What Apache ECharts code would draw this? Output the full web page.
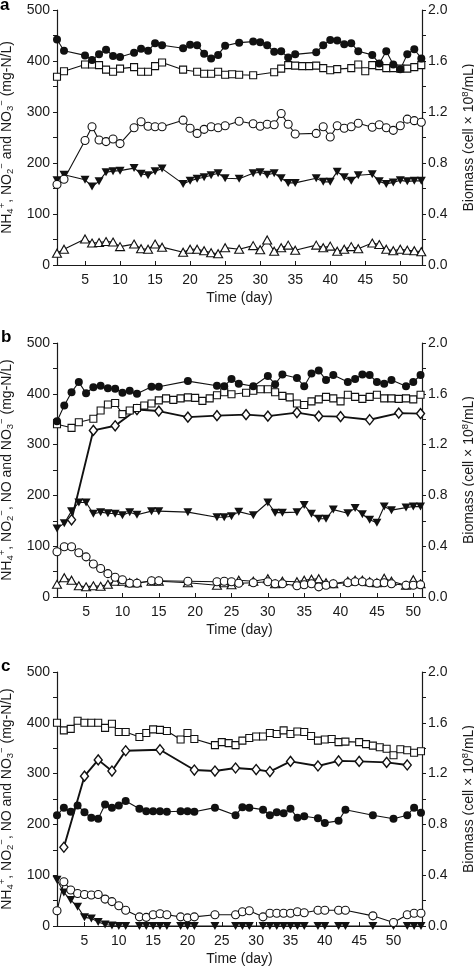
<!DOCTYPE html>
<html><head><meta charset="utf-8">
<script src="https://cdn.jsdelivr.net/npm/echarts@6/dist/echarts.min.js"></script>
<style>html,body{margin:0;padding:0;background:#fff}#c{width:474px;height:969px}</style>
</head><body><div id="c"></div>
<script>
// ---------- Panel a ----------
const aDays = [1,2,5,6,7,8,9,10,12,13,14,15,16,19,20,21,22,23,24,25,27,29,30,31,32,33,34,35,38,39,40,41,42,43,44,46,47,48,49,50,51,52,53];
const aFilledCircle = [442,420,411,402,413,422,410,408,416,424,420,435,431,425,432,431,414,405,412,430,436,438,437,431,418,419,407,413,417,431,441,440,433,435,419,412,395,419,393,384,413,423,405];
const aOpenCircle = [158,168,244,271,245,242,247,238,269,281,272,271,271,284,268,258,266,271,269,273,282,277,272,276,275,297,276,257,258,271,251,273,268,271,278,270,275,269,264,273,286,283,280];
const aFilledTri = [166,177,167,154,164,182,184,185,190,179,176,184,189,159,165,169,172,176,180,170,169,180,182,177,180,170,161,161,170,163,163,183,172,165,176,178,164,159,162,166,164,165,165];
const aOpenTri = [23,31,51,43,44,46,45,36,41,32,31,41,35,25,31,31,28,24,22,34,31,38,30,49,27,34,39,29,39,34,37,27,31,36,32,43,40,31,28,31,29,28,26];
const aSquareDays = [1,2,5,6,7,8,9,10,12,13,14,15,16,19,21,22,23,24,25,26,27,29,32,33,34,35,36,37,38,39,40,41,43,44,45,46,47,48,49,50,51,52,53];
const aSquare = [369,380,393,393,392,383,379,385,388,379,379,390,397,383,379,375,375,379,373,374,373,372,378,385,392,391,390,390,391,386,382,384,386,393,380,392,390,386,386,385,385,388,392];

// ---------- Panel b ----------
const bDays = [1,2,3,4,5,6,7,8,9,10,11,12,14,15,19,23,24,25,26,28,30,31,32,34,35,36,37,38,39,41,42,43,44,45,46,47,49,50,51];
const bFilledCircle = [346,377,403,423,401,413,416,411,410,402,406,400,414,414,425,416,415,429,420,415,435,419,438,431,415,440,446,427,437,423,429,438,437,423,420,427,415,423,437];
const bFilledTri = [135,145,169,186,186,164,167,165,164,161,167,162,169,169,167,157,157,159,168,161,186,166,166,167,181,164,154,154,172,165,175,163,152,146,178,171,176,178,178];
const bOpenCircle = [89,99,99,87,79,65,56,46,39,34,27,27,32,32,31,30,31,30,27,28,30,26,26,22,24,26,20,23,26,28,30,30,28,27,28,26,23,23,24];
const bOpenTri = [25,38,33,22,20,22,21,25,31,31,28,28,31,31,28,23,28,24,33,31,36,26,31,30,33,35,36,28,26,31,33,33,30,28,37,31,23,34,26];
const bSquareDays = [1,3,4,6,7,8,9,10,11,12,13,14,15,16,17,18,19,20,21,22,23,24,25,27,28,29,30,31,32,33,34,35,36,37,38,39,40,41,42,43,44,45,46,47,48,49,50,51];
const bSquare = [340,333,344,351,367,379,382,360,367,372,377,381,387,391,388,391,393,392,386,391,397,403,399,402,406,409,409,403,396,393,381,378,385,389,394,391,385,398,394,390,394,398,391,391,390,391,389,398];
const bDiamondDays = [3,6,9,12,15,19,23,27,30,34,37,40,44,48,51];
const bDiamond = [152,328,337,369,366,354,357,359,356,363,356,355,349,362,361];

// ---------- Panel c ----------
const cDays = [1,2,3,4,5,6,7,8,9,10,11,13,14,15,16,17,19,20,21,24,27,28,29,31,32,33,34,35,36,37,39,40,42,43,47,50,52,53,54];
const cFilledCircle = [218,233,225,237,224,213,211,239,233,237,246,231,226,226,226,225,226,226,225,233,218,234,233,229,218,224,222,231,213,216,212,203,207,229,218,211,218,233,223];
const cOpenCircle = [30,87,71,64,62,61,62,53,48,40,31,18,17,22,24,22,18,16,18,22,22,28,30,18,25,25,25,25,28,26,31,31,31,31,20,7,22,25,25];
const cFilledTri = [91,66,51,38,17,15,8,3,1,0,0,0,0,0,0,0,0,0,0,0,0,0,0,0,0,0,0,0,0,0,0,0,0,0,0,0,0,0,0];
const cSquareDays = [1,2,3,4,5,6,7,8,9,10,11,13,14,15,16,17,19,20,21,24,25,26,27,28,29,30,31,32,33,34,35,36,37,38,39,40,41,42,43,45,46,47,48,49,50,51,52,53,54];
const cSquare = [400,385,388,404,400,400,400,390,398,382,382,372,380,387,386,384,367,380,368,356,362,360,356,365,370,373,373,380,378,385,378,383,382,374,365,367,368,362,363,362,358,355,352,349,336,348,346,341,344];
const cDiamondDays = [2,5,7,9,11,16,21,24,27,30,32,35,39,42,45,49,52];
const cDiamond = [155,295,327,305,345,347,307,305,311,308,304,324,315,325,324,322,317];

// ---------- Axis tick labels ----------
const xTickValues = [5,10,15,20,25,30,35,40,45,50];
const leftTickLabels = [0,100,200,300,400,500];
const rightTickLabels = ['0.0','0.4','0.8','1.2','1.6','2.0'];

const FONT = '"Liberation Sans", Arial, Helvetica, sans-serif';
const INK = '#1a1a1a';

const panels = [
  {top:10, height:255, xmax:53.1, leftName:'NH{sub|4}{sup|+}, NO{sub|2}{sup|−} and NO{sub|3}{sup|−} (mg-N/L)'},
  {top:343, height:254, xmax:51.2, leftName:'NH{sub|4}{sup|+}, NO{sub|2}{sup|−}, NO and NO{sub|3}{sup|−} (mg-N/L)'},
  {top:672, height:254, xmax:54.15, leftName:'NH{sub|4}{sup|+}, NO{sub|2}{sup|−}, NO and NO{sub|3}{sup|−} (mg-N/L)'}
];

const rich = {
  sub:{fontSize:9.5, lineHeight:9, verticalAlign:'bottom', fontFamily:FONT, color:INK},
  sup:{fontSize:9.5, lineHeight:9, verticalAlign:'top', fontFamily:FONT, color:INK}
};

const grid = [], xAxis = [], yAxis = [];
panels.forEach((p, i) => {
  grid.push({left:57, right:52, top:p.top, height:p.height, containLabel:false, outerBoundsMode:'none'});
  xAxis.push({
    type:'value', gridIndex:i, min:1, max:p.xmax,
    name:'Time (day)', nameLocation:'middle', nameGap:26,
    nameTextStyle:{fontFamily:FONT, fontSize:14, color:INK},
    axisLine:{lineStyle:{color:INK, width:1.2}},
    axisTick:{inside:true, length:4, customValues:xTickValues, lineStyle:{color:INK}},
    axisLabel:{customValues:xTickValues, margin:8, fontFamily:FONT, fontSize:14, color:INK},
    splitLine:{show:false}
  });
  yAxis.push({
    type:'value', gridIndex:i, position:'left', min:0, max:500, interval:50,
    name:p.leftName, nameLocation:'middle', nameRotate:90, nameGap:38,
    nameTextStyle:{fontFamily:FONT, fontSize:14, lineHeight:18, color:INK, rich:rich},
    axisLine:{show:true, lineStyle:{color:INK, width:1.2}},
    axisTick:{show:true, length:4, lineStyle:{color:INK}},
    axisLabel:{margin:7, fontFamily:FONT, fontSize:14, color:INK,
      formatter: v => leftTickLabels.indexOf(Math.round(v)) >= 0 && Math.abs(v - Math.round(v)) < 1e-6 ? String(Math.round(v)) : ''},
    splitLine:{show:false}
  });
  yAxis.push({
    type:'value', gridIndex:i, position:'right', min:0, max:2, interval:0.2,
    name:'Biomass (cell × 10{sup|8}/mL)', nameLocation:'middle', nameRotate:90, nameGap:38,
    nameTextStyle:{fontFamily:FONT, fontSize:14, lineHeight:18, color:INK, rich:rich},
    axisLine:{show:true, lineStyle:{color:INK, width:1.2}},
    axisTick:{show:true, length:4, lineStyle:{color:INK}},
    axisLabel:{margin:6, fontFamily:FONT, fontSize:14, color:INK,
      formatter: v => { const r = Math.round(v*10); return r % 4 === 0 ? rightTickLabels[r/4] : ''; }},
    splitLine:{show:false}
  });
});

function mk(gi, days, vals, symbol, filled, extra) {
  extra = extra || {};
  return Object.assign({
    type:'line', xAxisIndex:gi, yAxisIndex:gi*2,
    data: days.map((d, k) => [d, vals[k]]),
    symbol: symbol,
    symbolSize: extra.size || 8,
    symbolRotate: extra.rotate || 0,
    showSymbol:true, clip:false, silent:true, animation:false,
    lineStyle:{color:'#111', width: extra.lw || 1.1},
    itemStyle:{color: filled ? '#111' : '#fff', borderColor:'#111', borderWidth: filled ? 0 : (extra.bw || 1.1)},
    emphasis:{disabled:true}
  }, extra.opt || {});
}

const series = [
  mk(0, aDays, aOpenTri, 'triangle', false, {size:[9,8]}),
  mk(0, aDays, aFilledTri, 'triangle', true, {size:[9,8], rotate:180}),
  mk(0, aDays, aOpenCircle, 'circle', false, {size:8}),
  mk(0, aSquareDays, aSquare, 'rect', false, {size:7}),
  mk(0, aDays, aFilledCircle, 'circle', true, {size:8}),

  mk(1, bDays, bOpenTri, 'triangle', false, {size:[9,8]}),
  mk(1, bDays, bOpenCircle, 'circle', false, {size:8}),
  mk(1, bDays, bFilledTri, 'triangle', true, {size:[9,8], rotate:180}),
  mk(1, bDiamondDays, bDiamond, 'diamond', false, {size:[8,10], lw:1.9, bw:1.4}),
  mk(1, bSquareDays, bSquare, 'rect', false, {size:7}),
  mk(1, bDays, bFilledCircle, 'circle', true, {size:8}),

  mk(2, cDays, cFilledTri, 'triangle', true, {size:[9,8], rotate:180}),
  mk(2, cDays, cOpenCircle, 'circle', false, {size:8}),
  mk(2, cDays, cFilledCircle, 'circle', true, {size:8}),
  mk(2, cDiamondDays, cDiamond, 'diamond', false, {size:[8,10], lw:1.9, bw:1.4}),
  mk(2, cSquareDays, cSquare, 'rect', false, {size:7})
];

const chart = echarts.init(document.getElementById('c'), null, {renderer:'canvas'});
chart.setOption({
  animation:false,
  backgroundColor:'#fff',
  grid: grid, xAxis: xAxis, yAxis: yAxis, series: series,
  graphic: [
    {type:'text', left:0, top:-3, style:{text:'a', font:'bold 17px ' + FONT, fill:'#000'}},
    {type:'text', left:1, top:329, style:{text:'b', font:'bold 17px ' + FONT, fill:'#000'}},
    {type:'text', left:1, top:658, style:{text:'c', font:'bold 17px ' + FONT, fill:'#000'}}
  ]
});
</script>
</body></html>
